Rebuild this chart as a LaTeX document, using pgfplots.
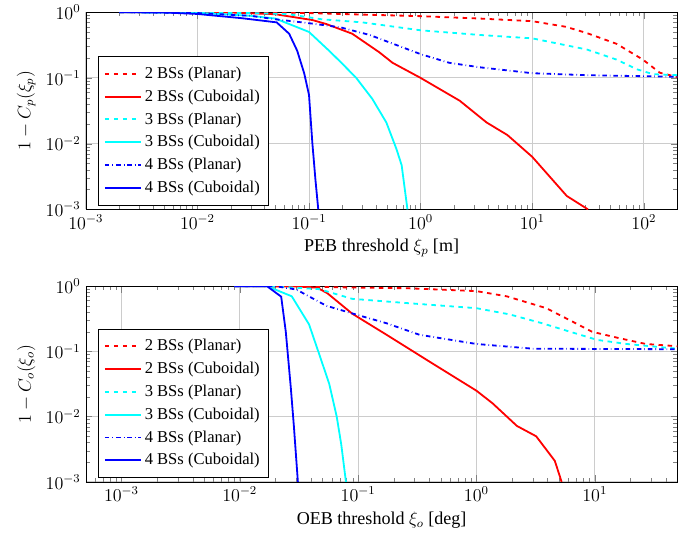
\documentclass[border=0pt]{standalone}
\usepackage{fontspec}
\setmainfont{Liberation Serif}
\usepackage{pgfplots}
\pgfplotsset{compat=1.18}
\definecolor{cyanc}{RGB}{0,255,255}

\begin{document}
\begin{tikzpicture}
% position error bound
\begin{axis}[
    xmode=log, ymode=log,
    scale only axis,
    width=393pt, height=131pt,
    at={(0,0)}, anchor=north west,
    xmin=1e-3, xmax=200,
    ymin=1e-3, ymax=1,
    ytick={1e-3,1e-2,1e-1,1},
    grid=major,
    major grid style={gray!40, line width=0.6pt},
    tick label style={font=\large},
    label style={font=\large},
    xlabel={PEB threshold $\xi_p$ [m]},
    ylabel={$1-C_p(\xi_p)$},
    legend cell align=left,
    legend style={at={(0.02,0.02)}, anchor=south west, draw=black,
      font=\fontsize{11}{13}\selectfont,
      row sep=2pt, inner xsep=4pt, inner ysep=5pt},
    legend image post style={xscale=1.4, line width=1.2pt},
]
\addplot[red, dashed, line width=1.2pt] coordinates {
  (0.002,1) (0.05,0.99) (0.1,0.97) (0.3,0.92) (1,0.87) (3.4,0.8) (10,0.73)
  (20,0.6) (31,0.48) (57,0.33) (98,0.19) (139,0.12) (200,0.103)
};
\addplot[red, line width=1.2pt] coordinates {
  (0.002,1) (0.02,0.99) (0.05,0.93) (0.107,0.76) (0.143,0.66) (0.244,0.47)
  (0.427,0.245) (0.56,0.17) (1,0.1) (2.24,0.045) (3.9,0.021) (6,0.0135)
  (10,0.0063) (20.4,0.0016) (31.6,0.001)
};
\addplot[cyanc, dashed, line width=1.2pt] coordinates {
  (0.002,1) (0.03,0.97) (0.066,0.93) (0.13,0.78) (0.3,0.7) (1,0.53) (3.4,0.45)
  (10,0.4) (31,0.27) (57,0.19) (87,0.135) (121,0.114) (200,0.11)
};
\addplot[cyanc, line width=1.2pt] coordinates {
  (0.002,1) (0.01,0.98) (0.03,0.88) (0.05,0.8) (0.1,0.5) (0.151,0.26)
  (0.195,0.17) (0.265,0.1) (0.369,0.048) (0.493,0.021) (0.607,0.0083)
  (0.676,0.0047) (0.762,0.001)
};
\addplot[blue, dashdotted, line width=1.2pt] coordinates {
  (0.002,1) (0.01,0.97) (0.03,0.88) (0.05,0.78) (0.1,0.68) (0.19,0.59)
  (0.35,0.45) (1,0.23) (1.8,0.17) (3.4,0.145) (10,0.118) (31,0.11) (200,0.104)
};
\addplot[blue, line width=1.2pt] coordinates {
  (0.002,1) (0.005,0.99) (0.01,0.94) (0.025,0.81) (0.0513,0.70) (0.0664,0.47)
  (0.0783,0.26) (0.0906,0.117) (0.1,0.055) (0.107,0.0105) (0.114,0.0029)
  (0.121,0.001)
};
\legend{2 BSs (Planar), 2 BSs (Cuboidal), 3 BSs (Planar),
        3 BSs (Cuboidal), 4 BSs (Planar), 4 BSs (Cuboidal)}
\end{axis}

% orientation error bound
\begin{axis}[
    xmode=log, ymode=log,
    scale only axis,
    width=393pt, height=130pt,
    at={(0,-182pt)}, anchor=north west,
    xmin=5e-4, xmax=50,
    ymin=1e-3, ymax=1,
    ytick={1e-3,1e-2,1e-1,1},
    grid=major,
    major grid style={gray!40, line width=0.6pt},
    tick label style={font=\large},
    label style={font=\large},
    xlabel={OEB threshold $\xi_o$ [deg]},
    ylabel={$1-C_o(\xi_o)$},
    legend cell align=left,
    legend style={at={(0.02,0.02)}, anchor=south west, draw=black,
      font=\fontsize{11}{13}\selectfont,
      row sep=2pt, inner xsep=4pt, inner ysep=5pt},
    legend image post style={xscale=1.4, line width=1.2pt},
]
\addplot[red, dashed, line width=1.2pt] coordinates {
  (0.009,1) (0.03,0.99) (0.1,0.95) (0.26,0.93) (1,0.84) (1.8,0.7) (3.9,0.46)
  (6.4,0.29) (9.5,0.2) (16,0.16) (27,0.13) (50,0.12)
};
\addplot[red, line width=1.2pt] coordinates {
  (0.009,1) (0.03,0.99) (0.045,0.95) (0.055,0.78) (0.089,0.38) (0.174,0.18)
  (0.4,0.07) (1,0.025) (1.37,0.016) (2.2,0.0072) (3.2,0.005) (4.6,0.0021)
  (5.25,0.001)
};
\addplot[cyanc, dashed, line width=1.2pt] coordinates {
  (0.009,1) (0.018,1) (0.047,0.9) (0.089,0.64) (0.26,0.55) (1,0.46) (1.9,0.37)
  (3.6,0.27) (6.2,0.2) (10.5,0.15) (18.6,0.13) (50,0.11)
};
\addplot[cyanc, line width=1.2pt] coordinates {
  (0.009,1) (0.017,1) (0.0275,0.7) (0.0385,0.26) (0.047,0.09) (0.057,0.032)
  (0.066,0.01) (0.072,0.0038) (0.079,0.001)
};
\addplot[blue, dashdotted, line width=1.2pt] coordinates {
  (0.009,1) (0.02,1) (0.03,0.89) (0.054,0.5) (0.1,0.36) (0.174,0.27)
  (0.33,0.18) (1,0.13) (3,0.11) (50,0.108)
};
\addplot[blue, line width=1.2pt] coordinates {
  (0.009,1) (0.017,1) (0.0224,0.69) (0.0245,0.2) (0.027,0.028) (0.0287,0.007)
  (0.031,0.001)
};
\legend{2 BSs (Planar), 2 BSs (Cuboidal), 3 BSs (Planar),
        3 BSs (Cuboidal), 4 BSs (Planar), 4 BSs (Cuboidal)}
\end{axis}
% blank margins, as in the reference
\path (-57pt,0pt) (404pt,0pt);
\end{tikzpicture}
\end{document}
